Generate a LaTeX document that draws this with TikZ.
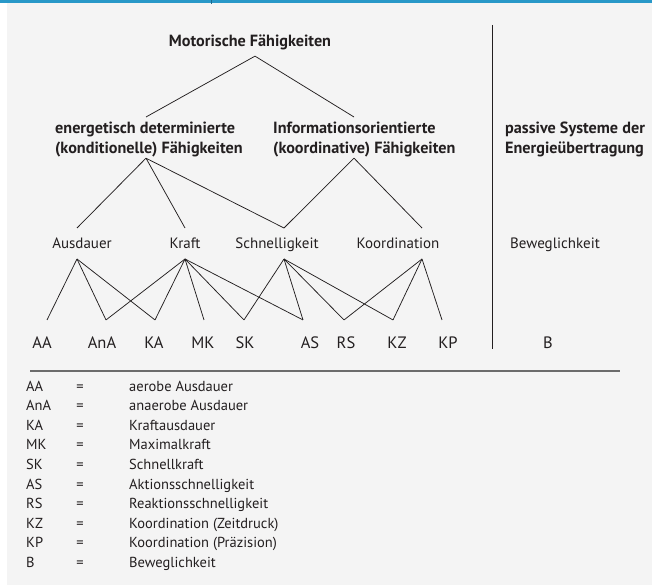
\documentclass[tikz,border=0pt]{standalone}
\usepackage{fontspec}
\setmainfont{PT Sans}
\definecolor{framecyan}{RGB}{40,152,200}
\definecolor{panelgray}{RGB}{244,244,244}
\definecolor{inkdark}{RGB}{35,31,32}
\definecolor{rulegray}{RGB}{108,108,108}

\begin{document}
\begin{tikzpicture}[x=1pt,y=-1pt,
  every node/.style={text=inkdark,inner sep=0pt},
  head/.style={font=\fontsize{16.2}{20}\selectfont\bfseries,align=left,anchor=north west},
  ability/.style={font=\fontsize{15}{18}\selectfont,text height=10.5pt,text depth=0.5pt,outer ysep=10pt},
  part/.style={font=\fontsize{16.5}{18}\selectfont,text height=11.5pt,text depth=0pt,outer ysep=16.8pt},
  legend/.style={font=\fontsize{14.5}{16}\selectfont,anchor=base west},
  link/.style={inkdark,line width=0.75pt}]
  \useasboundingbox (0,0) rectangle (652,585);
  \fill[white] (0,0) rectangle (652,585);
  \fill[panelgray] (7,3) rectangle (652,585);
  \fill[framecyan] (0,0.5) rectangle (652,3);
  \draw[framecyan!70!black,line width=1pt] (211,0) -- (211,4);
  % separators
  \draw[inkdark,line width=0.9pt] (492,25) -- (492,349);
  \draw[rulegray,line width=2pt] (30,371) -- (620,371);

  % headings
  \node[head,anchor=base] (motor) at (250,46.5) {Motorische Fähigkeiten};
  \node[head] (kond) at (55,121.5) {energetisch determinierte\\(konditionelle) Fähigkeiten};
  \node[head] (info) at (273,121.5) {Informationsorientierte\\(koordinative) Fähigkeiten};
  \node[head] (passiv) at (505,121.5) {passive Systeme der\\Energieübertragung};

  % abilities
  \node[ability] (aus) at (82,243.5) {Ausdauer};
  \node[ability] (kraft) at (185,243.5) {Kraft};
  \node[ability] (schnell) at (277,243.5) {Schnelligkeit};
  \node[ability] (koord) at (398,243.5) {Koordination};
  \node[ability] (bew) at (555,243.5) {Beweglichkeit};

  % parts
  \foreach \n/\x in {AA/42,AnA/102,KA/154,MK/203,SK/245,AS/310,RS/346,KZ/397,KP/448,B/548}
    \node[part] (\n) at (\x,342.5) {\n};

  % connector ends
  \coordinate (motor-dn) at ([xshift=5pt,yshift=-6pt]motor.south);
  \coordinate (kond-up) at ([xshift=91pt,yshift=4.5pt]kond.north west);
  \coordinate (kond-dn) at ([xshift=91pt,yshift=-1.2pt]kond.south west);
  \coordinate (info-up) at ([xshift=81pt,yshift=4.5pt]info.north west);
  \coordinate (info-dn) at ([xshift=81pt,yshift=-1.2pt]info.south west);
  \foreach \n/\s in {aus/-5,kraft/0,schnell/7,koord/24} {
    \coordinate (\n-up) at ([xshift=\s pt]\n.north);
    \coordinate (\n-dn) at ([xshift=\s pt]\n.south);
  }
  \foreach \n/\s in {AA/5,AnA/4,KA/1,MK/1,SK/-1,AS/-7,RS/-2,KZ/-4,KP/-6}
    \coordinate (\n-up) at ([xshift=\s pt]\n.north);

  % tree
  \draw[link] (motor-dn) -- (kond-up) (motor-dn) -- (info-up);
  \draw[link] (kond-dn) -- (aus-up) (kond-dn) -- (kraft-up) (kond-dn) -- (schnell-up);
  \draw[link] (info-dn) -- (schnell-up) (info-dn) -- (koord-up);
  \foreach \a/\b in {aus/AA,aus/AnA,aus/KA,kraft/AnA,kraft/KA,kraft/MK,kraft/SK,kraft/AS,
      schnell/SK,schnell/AS,schnell/RS,schnell/KZ,koord/RS,koord/KZ,koord/KP}
    \draw[link] (\a-dn) -- (\b-up);

  % legend
  \foreach \k/\t [count=\i from 0] in {AA/aerobe Ausdauer,AnA/anaerobe Ausdauer,
      KA/Kraftausdauer,MK/Maximalkraft,SK/Schnellkraft,AS/Aktionsschnelligkeit,
      RS/Reaktionsschnelligkeit,KZ/Koordination (Zeitdruck),KP/Koordination (Präzision),
      B/Beweglichkeit} {
    \node[legend] (abbr-\i) at (26,{391+19.6*\i}) {\k};
    \node[legend,anchor=base] (eq-\i) at (80,{391+19.6*\i}) {=};
    \node[legend] (desc-\i) at (129,{391+19.6*\i}) {\t};
  }
\end{tikzpicture}
\end{document}
